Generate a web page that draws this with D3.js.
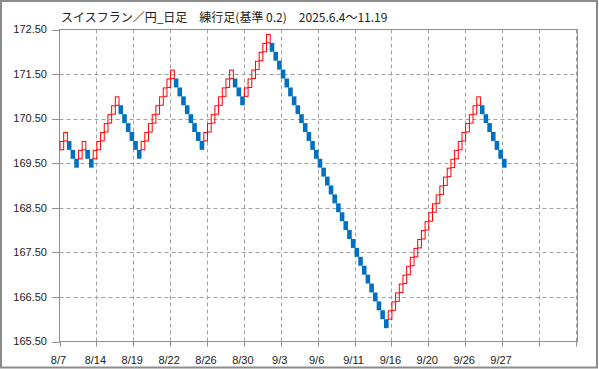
<!DOCTYPE html>
<html lang="ja">
<head>
<meta charset="utf-8">
<script src="https://d3js.org/d3.v7.min.js"></script>
<style>
  body { margin: 0; background: #fff; }
  svg text { font-family: "Liberation Sans", Arial, sans-serif; fill: #222; }
</style>
</head>
<body>
<div id="chart"></div>
<script>
// renko bricks (box 0.2): low of each brick and its direction
const brickLow = [
  169.8, 170.0, 169.8, 169.6, 169.4, 169.6, 169.8, 169.6, 169.4,
  169.6, 169.8, 170.0, 170.2, 170.4, 170.6, 170.8,
  170.6, 170.4, 170.2, 170.0, 169.8, 169.6,
  169.8, 170.0, 170.2, 170.4, 170.6, 170.8, 171.0, 171.2, 171.4,
  171.2, 171.0, 170.8, 170.6, 170.4, 170.2, 170.0, 169.8,
  170.0, 170.2, 170.4, 170.6, 170.8, 171.0, 171.2, 171.4,
  171.2, 171.0, 170.8,
  171.0, 171.2, 171.4, 171.6, 171.8, 172.0, 172.2,
  172.0, 171.8, 171.6, 171.4, 171.2, 171.0, 170.8, 170.6, 170.4, 170.2,
  170.0, 169.8, 169.6, 169.4, 169.2, 169.0, 168.8, 168.6, 168.4, 168.2,
  168.0, 167.8, 167.6, 167.4, 167.2, 167.0, 166.8, 166.6, 166.4, 166.2,
  166.0, 165.8,
  166.0, 166.2, 166.4, 166.6, 166.8, 167.0, 167.2, 167.4, 167.6, 167.8,
  168.0, 168.2, 168.4, 168.6, 168.8, 169.0, 169.2, 169.4, 169.6, 169.8,
  170.0, 170.2, 170.4, 170.6, 170.8,
  170.6, 170.4, 170.2, 170.0, 169.8, 169.6, 169.4
];
const brickDir = [
  "u","u","d","d","d","u","u","d","d",
  "u","u","u","u","u","u","u",
  "d","d","d","d","d","d",
  "u","u","u","u","u","u","u","u","u",
  "d","d","d","d","d","d","d","d",
  "u","u","u","u","u","u","u","u",
  "d","d","d",
  "u","u","u","u","u","u","u",
  "d","d","d","d","d","d","d","d","d","d",
  "d","d","d","d","d","d","d","d","d","d",
  "d","d","d","d","d","d","d","d","d","d",
  "d","d",
  "u","u","u","u","u","u","u","u","u","u",
  "u","u","u","u","u","u","u","u","u","u",
  "u","u","u","u","u",
  "d","d","d","d","d","d","d"
];
const boxSize = 0.2;
const xTickIdx = [0, 10, 20, 30, 40, 50, 60, 70, 80, 90, 100, 110, 120, 130, 140];
const xTickLabels = ["8/7", "8/14", "8/19", "8/22", "8/26", "8/30", "9/3", "9/6",
                     "9/11", "9/16", "9/20", "9/26", "9/27", "", ""];
const yTicks = [165.5, 166.5, 167.5, 168.5, 169.5, 170.5, 171.5, 172.5];
const title = "スイスフラン／円_日足　練行足(基準 0.2)　2025.6.4〜11.19";

const W = 599, H = 369;
const mLeft = 59.5, mRight = 577.5, mTop = 29.5, mBottom = 341.5;

const svg = d3.select("#chart").append("svg")
    .attr("width", W).attr("height", H);

// outer frame
svg.append("rect")
    .attr("x", 1).attr("y", 1).attr("width", W - 3).attr("height", H - 2.5)
    .attr("fill", "none").attr("stroke", "#8c8c8c").attr("stroke-width", 2);

const x = d3.scaleLinear().domain([0, 140]).range([mLeft, 575.8]);
const y = d3.scaleLinear().domain([165.5, 172.5]).range([mBottom, mTop]);

// gridlines
svg.append("g").selectAll("line").data(yTicks.slice(1, -1)).join("line")
    .attr("x1", mLeft).attr("x2", mRight)
    .attr("y1", d => Math.round(y(d)) + 0.5).attr("y2", d => Math.round(y(d)) + 0.5)
    .attr("stroke", "#a0a0a0").attr("stroke-dasharray", "4,3");
svg.append("g").selectAll("line").data(xTickIdx.slice(1)).join("line")
    .attr("x1", d => Math.round(x(d)) + 0.5).attr("x2", d => Math.round(x(d)) + 0.5)
    .attr("y1", mTop).attr("y2", mBottom)
    .attr("stroke", "#a0a0a0").attr("stroke-dasharray", "4,3");

// plot border
svg.append("rect")
    .attr("x", mLeft).attr("y", mTop).attr("width", mRight - mLeft).attr("height", mBottom - mTop)
    .attr("fill", "none").attr("stroke", "#909090");

// y axis ticks + labels
const yAxis = svg.append("g");
yAxis.selectAll("line").data(yTicks).join("line")
    .attr("x1", 52).attr("x2", mLeft)
    .attr("y1", d => Math.round(y(d)) + 0.5).attr("y2", d => Math.round(y(d)) + 0.5)
    .attr("stroke", "#909090");
yAxis.selectAll("text").data(yTicks).join("text")
    .attr("x", 47).attr("y", d => y(d)).attr("dy", "0.35em")
    .attr("text-anchor", "end").style("font-size", "11px")
    .text(d => d.toFixed(2));

// x axis ticks + labels
const xAxis = svg.append("g");
xAxis.selectAll("line").data(xTickIdx).join("line")
    .attr("x1", d => Math.round(x(d)) + 0.5).attr("x2", d => Math.round(x(d)) + 0.5)
    .attr("y1", mBottom).attr("y2", mBottom + 5)
    .attr("stroke", "#909090");
xAxis.selectAll("text").data(xTickIdx).join("text")
    .attr("x", d => x(d) - 1).attr("y", 364)
    .attr("text-anchor", "middle").style("font-size", "11px")
    .text((d, i) => xTickLabels[i]);

// bricks
const slot = x(1) - x(0);
const bricks = brickLow.map((v, i) => ({ i, low: v, dir: brickDir[i] }));
svg.append("g").selectAll("rect").data(bricks).join("rect")
    .attr("x", d => d.dir === "u" ? x(d.i) + 0.5 : x(d.i))
    .attr("y", d => d.dir === "u" ? y(d.low + boxSize) + 0.5 : y(d.low + boxSize))
    .attr("width", d => d.dir === "u" ? slot : slot + 0.9)
    .attr("height", d => d.dir === "u" ? y(d.low) - y(d.low + boxSize) - 0.5 : y(d.low) - y(d.low + boxSize))
    .attr("fill", d => d.dir === "u" ? "none" : "#0070c0")
    .attr("stroke", d => d.dir === "u" ? "#ff0000" : "none")
    .attr("stroke-width", 1);

// title
svg.append("text")
    .attr("x", 61).attr("y", 22)
    .style("font-family", "'Noto Sans CJK JP', sans-serif")
    .style("font-size", "12px")
    .text(title);
</script>
</body>
</html>
